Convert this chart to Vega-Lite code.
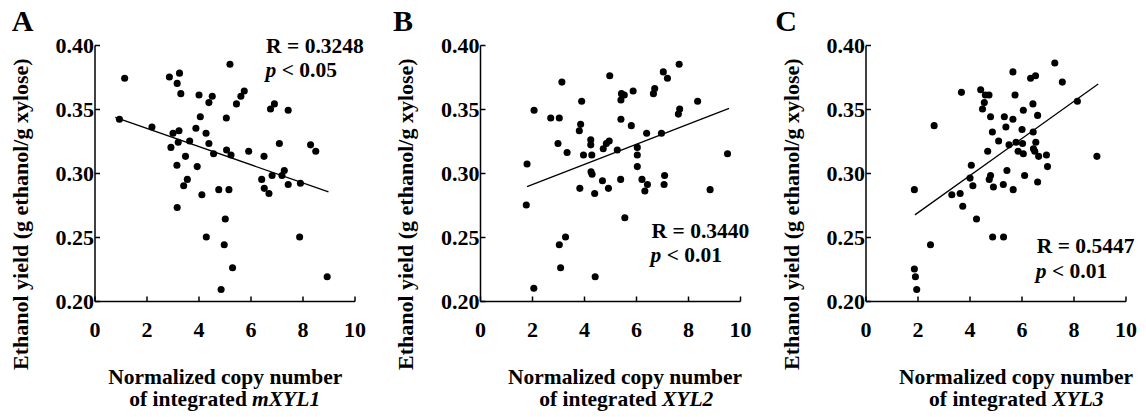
{
  "$schema": "https://vega.github.io/schema/vega-lite/v6.json",
  "padding": {"left": 8.5, "top": 6, "right": 0, "bottom": 0},
  "background": "white",
  "datasets": {
    "A": [{"x":0.96,"y":0.342},{"x":1.16,"y":0.374},{"x":2.21,"y":0.336},{"x":2.88,"y":0.375},{"x":2.94,"y":0.320},{"x":3.02,"y":0.331},{"x":3.18,"y":0.370},{"x":3.27,"y":0.378},{"x":3.25,"y":0.333},{"x":3.22,"y":0.324},{"x":3.17,"y":0.306},{"x":3.18,"y":0.273},{"x":3.32,"y":0.362},{"x":3.50,"y":0.313},{"x":3.43,"y":0.290},{"x":3.57,"y":0.295},{"x":3.66,"y":0.325},{"x":3.90,"y":0.335},{"x":3.95,"y":0.305},{"x":4.02,"y":0.361},{"x":4.07,"y":0.344},{"x":4.13,"y":0.283},{"x":4.29,"y":0.331},{"x":4.30,"y":0.250},{"x":4.40,"y":0.355},{"x":4.40,"y":0.323},{"x":4.53,"y":0.360},{"x":4.58,"y":0.315},{"x":4.78,"y":0.287},{"x":4.87,"y":0.209},{"x":4.99,"y":0.244},{"x":5.03,"y":0.264},{"x":5.07,"y":0.343},{"x":5.08,"y":0.318},{"x":5.17,"y":0.287},{"x":5.21,"y":0.385},{"x":5.25,"y":0.314},{"x":5.31,"y":0.226},{"x":5.46,"y":0.354},{"x":5.63,"y":0.360},{"x":5.76,"y":0.364},{"x":5.93,"y":0.317},{"x":6.43,"y":0.295},{"x":6.52,"y":0.313},{"x":6.53,"y":0.288},{"x":6.71,"y":0.284},{"x":6.77,"y":0.350},{"x":6.83,"y":0.298},{"x":6.92,"y":0.354},{"x":7.11,"y":0.323},{"x":7.21,"y":0.298},{"x":7.30,"y":0.302},{"x":7.45,"y":0.349},{"x":7.45,"y":0.291},{"x":7.89,"y":0.250},{"x":7.92,"y":0.292},{"x":8.31,"y":0.322},{"x":8.51,"y":0.317},{"x":8.95,"y":0.219}],
    "B": [{"x":1.81,"y":0.307},{"x":1.78,"y":0.275},{"x":2.08,"y":0.349},{"x":2.07,"y":0.210},{"x":2.72,"y":0.343},{"x":3.00,"y":0.323},{"x":3.05,"y":0.343},{"x":3.05,"y":0.244},{"x":3.10,"y":0.226},{"x":3.15,"y":0.371},{"x":3.29,"y":0.250},{"x":3.35,"y":0.316},{"x":3.82,"y":0.333},{"x":3.87,"y":0.338},{"x":3.84,"y":0.288},{"x":3.91,"y":0.356},{"x":3.98,"y":0.314},{"x":4.26,"y":0.326},{"x":4.26,"y":0.322},{"x":4.27,"y":0.301},{"x":4.31,"y":0.299},{"x":4.30,"y":0.314},{"x":4.41,"y":0.284},{"x":4.43,"y":0.219},{"x":4.71,"y":0.294},{"x":4.74,"y":0.319},{"x":4.86,"y":0.323},{"x":4.97,"y":0.325},{"x":4.94,"y":0.288},{"x":4.99,"y":0.376},{"x":5.28,"y":0.318},{"x":5.41,"y":0.295},{"x":5.42,"y":0.342},{"x":5.42,"y":0.357},{"x":5.44,"y":0.362},{"x":5.55,"y":0.361},{"x":5.57,"y":0.265},{"x":5.82,"y":0.337},{"x":5.89,"y":0.364},{"x":6.05,"y":0.320},{"x":6.05,"y":0.314},{"x":6.05,"y":0.305},{"x":6.23,"y":0.295},{"x":6.34,"y":0.286},{"x":6.41,"y":0.331},{"x":6.44,"y":0.291},{"x":6.67,"y":0.362},{"x":6.72,"y":0.366},{"x":6.98,"y":0.331},{"x":7.05,"y":0.379},{"x":7.08,"y":0.291},{"x":7.10,"y":0.298},{"x":7.21,"y":0.374},{"x":7.63,"y":0.346},{"x":7.68,"y":0.350},{"x":7.66,"y":0.385},{"x":8.37,"y":0.356},{"x":8.85,"y":0.287},{"x":9.52,"y":0.315}],
    "C": [{"x":1.88,"y":0.287},{"x":1.88,"y":0.225},{"x":1.92,"y":0.219},{"x":1.97,"y":0.209},{"x":2.50,"y":0.244},{"x":2.64,"y":0.337},{"x":3.32,"y":0.283},{"x":3.64,"y":0.284},{"x":3.69,"y":0.363},{"x":3.74,"y":0.274},{"x":4.02,"y":0.296},{"x":4.07,"y":0.306},{"x":4.13,"y":0.290},{"x":4.27,"y":0.264},{"x":4.43,"y":0.365},{"x":4.50,"y":0.350},{"x":4.57,"y":0.355},{"x":4.61,"y":0.361},{"x":4.75,"y":0.361},{"x":4.70,"y":0.317},{"x":4.76,"y":0.295},{"x":4.81,"y":0.298},{"x":4.81,"y":0.344},{"x":4.88,"y":0.332},{"x":4.89,"y":0.250},{"x":4.92,"y":0.289},{"x":5.12,"y":0.325},{"x":5.30,"y":0.291},{"x":5.31,"y":0.250},{"x":5.34,"y":0.344},{"x":5.40,"y":0.336},{"x":5.44,"y":0.302},{"x":5.52,"y":0.322},{"x":5.67,"y":0.342},{"x":5.67,"y":0.379},{"x":5.68,"y":0.287},{"x":5.75,"y":0.361},{"x":5.79,"y":0.324},{"x":5.87,"y":0.317},{"x":6.02,"y":0.334},{"x":6.04,"y":0.323},{"x":6.07,"y":0.315},{"x":6.07,"y":0.349},{"x":6.12,"y":0.298},{"x":6.35,"y":0.374},{"x":6.44,"y":0.354},{"x":6.45,"y":0.332},{"x":6.46,"y":0.319},{"x":6.54,"y":0.376},{"x":6.55,"y":0.324},{"x":6.51,"y":0.317},{"x":6.62,"y":0.345},{"x":6.62,"y":0.293},{"x":6.66,"y":0.313},{"x":6.96,"y":0.314},{"x":7.00,"y":0.305},{"x":7.28,"y":0.386},{"x":7.57,"y":0.371},{"x":8.15,"y":0.356},{"x":8.90,"y":0.313}],
    "fitA": [{"x":0.8,"y":0.3434},{"x":9.0,"y":0.2853}],
    "fitB": [{"x":1.81,"y":0.2894},{"x":9.58,"y":0.3505}],
    "fitC": [{"x":1.90,"y":0.2673},{"x":8.95,"y":0.3695}]
  },
  "hconcat": [
    {
      "width": 260, "height": 256,
      "layer": [
        {"data": {"name": "A"}, "mark": {"type": "circle", "size": 50, "opacity": 1, "color": "black"},
         "encoding": {
           "x": {"field": "x", "type": "quantitative", "scale": {"domain": [0, 10], "nice": false, "zero": false}, "axis": {"values": [0,2,4,6,8,10], "format": "d", "title": null}},
           "y": {"field": "y", "type": "quantitative", "scale": {"domain": [0.2, 0.4], "nice": false, "zero": false}, "axis": {"values": [0.2,0.25,0.3,0.35,0.4], "format": ".2f", "title": "Ethanol yield (g ethanol/g xylose)", "titleY": 168.7, "titlePadding": 23}}}},
        {"data": {"name": "fitA"}, "mark": {"type": "line", "color": "black", "strokeWidth": 1.3}, "encoding": {"x": {"field": "x", "type": "quantitative"}, "y": {"field": "y", "type": "quantitative"}}},
        {"data": {"values": [{"t": "A"}]}, "mark": {"type": "text", "align": "left", "baseline": "alphabetic", "fontSize": 30}, "encoding": {"x": {"datum": -3.18}, "y": {"datum": 0.4112}, "text": {"field": "t"}}},
        {"data": {"values": [{"t": "R = 0.3248"}]}, "mark": {"type": "text", "align": "left", "baseline": "alphabetic"}, "encoding": {"x": {"datum": 6.6}, "y": {"datum": 0.3935}, "text": {"field": "t"}}},
        {"data": {"values": [{"t": "p"}]}, "mark": {"type": "text", "align": "left", "baseline": "alphabetic", "fontStyle": "italic"}, "encoding": {"x": {"datum": 6.58}, "y": {"datum": 0.375}, "text": {"field": "t"}}},
        {"data": {"values": [{"t": "< 0.05"}]}, "mark": {"type": "text", "align": "left", "baseline": "alphabetic"}, "encoding": {"x": {"datum": 7.2}, "y": {"datum": 0.375}, "text": {"field": "t"}}},
        {"data": {"values": [{"t": "Normalized copy number"}]}, "mark": {"type": "text", "align": "center", "baseline": "alphabetic"}, "encoding": {"x": {"datum": 5.03}, "y": {"datum": 0.1354}, "text": {"field": "t"}}},
        {"data": {"values": [{"t": "of integrated"}]}, "mark": {"type": "text", "align": "right", "baseline": "alphabetic"}, "encoding": {"x": {"datum": 5.86}, "y": {"datum": 0.1178}, "text": {"field": "t"}}},
        {"data": {"values": [{"t": "mXYL1"}]}, "mark": {"type": "text", "align": "left", "baseline": "alphabetic", "fontStyle": "italic"}, "encoding": {"x": {"datum": 6.06}, "y": {"datum": 0.1178}, "text": {"field": "t"}}}
      ]
    },
    {
      "width": 260, "height": 256,
      "layer": [
        {"data": {"name": "B"}, "mark": {"type": "circle", "size": 50, "opacity": 1, "color": "black"},
         "encoding": {
           "x": {"field": "x", "type": "quantitative", "scale": {"domain": [0, 10], "nice": false, "zero": false}, "axis": {"values": [0,2,4,6,8,10], "format": "d", "title": null}},
           "y": {"field": "y", "type": "quantitative", "scale": {"domain": [0.2, 0.4], "nice": false, "zero": false}, "axis": {"values": [0.2,0.25,0.3,0.35,0.4], "format": ".2f", "title": "Ethanol yield (g ethanol/g xylose)", "titleY": 168.7, "titlePadding": 23}}}},
        {"data": {"name": "fitB"}, "mark": {"type": "line", "color": "black", "strokeWidth": 1.3}, "encoding": {"x": {"field": "x", "type": "quantitative"}, "y": {"field": "y", "type": "quantitative"}}},
        {"data": {"values": [{"t": "B"}]}, "mark": {"type": "text", "align": "left", "baseline": "alphabetic", "fontSize": 30}, "encoding": {"x": {"datum": -3.35}, "y": {"datum": 0.4112}, "text": {"field": "t"}}},
        {"data": {"values": [{"t": "R = 0.3440"}]}, "mark": {"type": "text", "align": "left", "baseline": "alphabetic"}, "encoding": {"x": {"datum": 6.6}, "y": {"datum": 0.2495}, "text": {"field": "t"}}},
        {"data": {"values": [{"t": "p"}]}, "mark": {"type": "text", "align": "left", "baseline": "alphabetic", "fontStyle": "italic"}, "encoding": {"x": {"datum": 6.56}, "y": {"datum": 0.2305}, "text": {"field": "t"}}},
        {"data": {"values": [{"t": "< 0.01"}]}, "mark": {"type": "text", "align": "left", "baseline": "alphabetic"}, "encoding": {"x": {"datum": 7.18}, "y": {"datum": 0.2305}, "text": {"field": "t"}}},
        {"data": {"values": [{"t": "Normalized copy number"}]}, "mark": {"type": "text", "align": "center", "baseline": "alphabetic"}, "encoding": {"x": {"datum": 5.58}, "y": {"datum": 0.1354}, "text": {"field": "t"}}},
        {"data": {"values": [{"t": "of integrated"}]}, "mark": {"type": "text", "align": "right", "baseline": "alphabetic"}, "encoding": {"x": {"datum": 6.8}, "y": {"datum": 0.1178}, "text": {"field": "t"}}},
        {"data": {"values": [{"t": "XYL2"}]}, "mark": {"type": "text", "align": "left", "baseline": "alphabetic", "fontStyle": "italic"}, "encoding": {"x": {"datum": 7.0}, "y": {"datum": 0.1178}, "text": {"field": "t"}}}
      ]
    },
    {
      "width": 260, "height": 256,
      "layer": [
        {"data": {"name": "C"}, "mark": {"type": "circle", "size": 50, "opacity": 1, "color": "black"},
         "encoding": {
           "x": {"field": "x", "type": "quantitative", "scale": {"domain": [0, 10], "nice": false, "zero": false}, "axis": {"values": [0,2,4,6,8,10], "format": "d", "title": null}},
           "y": {"field": "y", "type": "quantitative", "scale": {"domain": [0.2, 0.4], "nice": false, "zero": false}, "axis": {"values": [0.2,0.25,0.3,0.35,0.4], "format": ".2f", "title": "Ethanol yield (g ethanol/g xylose)", "titleY": 168.7, "titlePadding": 23}}}},
        {"data": {"name": "fitC"}, "mark": {"type": "line", "color": "black", "strokeWidth": 1.3}, "encoding": {"x": {"field": "x", "type": "quantitative"}, "y": {"field": "y", "type": "quantitative"}}},
        {"data": {"values": [{"t": "C"}]}, "mark": {"type": "text", "align": "left", "baseline": "alphabetic", "fontSize": 30}, "encoding": {"x": {"datum": -3.47}, "y": {"datum": 0.4112}, "text": {"field": "t"}}},
        {"data": {"values": [{"t": "R = 0.5447"}]}, "mark": {"type": "text", "align": "left", "baseline": "alphabetic"}, "encoding": {"x": {"datum": 6.59}, "y": {"datum": 0.2372}, "text": {"field": "t"}}},
        {"data": {"values": [{"t": "p"}]}, "mark": {"type": "text", "align": "left", "baseline": "alphabetic", "fontStyle": "italic"}, "encoding": {"x": {"datum": 6.55}, "y": {"datum": 0.2182}, "text": {"field": "t"}}},
        {"data": {"values": [{"t": "< 0.01"}]}, "mark": {"type": "text", "align": "left", "baseline": "alphabetic"}, "encoding": {"x": {"datum": 7.17}, "y": {"datum": 0.2182}, "text": {"field": "t"}}},
        {"data": {"values": [{"t": "Normalized copy number"}]}, "mark": {"type": "text", "align": "center", "baseline": "alphabetic"}, "encoding": {"x": {"datum": 5.79}, "y": {"datum": 0.1354}, "text": {"field": "t"}}},
        {"data": {"values": [{"t": "of integrated"}]}, "mark": {"type": "text", "align": "right", "baseline": "alphabetic"}, "encoding": {"x": {"datum": 6.97}, "y": {"datum": 0.1178}, "text": {"field": "t"}}},
        {"data": {"values": [{"t": "XYL3"}]}, "mark": {"type": "text", "align": "left", "baseline": "alphabetic", "fontStyle": "italic"}, "encoding": {"x": {"datum": 7.18}, "y": {"datum": 0.1178}, "text": {"field": "t"}}}
      ]
    }
  ],
  "spacing": 125.5,
  "bounds": "flush",
  "config": {
    "view": {"stroke": null},
    "font": "Liberation Serif",
    "axis": {
      "grid": false, "domainColor": "black", "domainWidth": 1.5, "tickColor": "black", "tickWidth": 1.5, "tickSize": -5,
      "labelFont": "Liberation Serif", "labelFontWeight": "bold", "labelFontSize": 22, "labelColor": "black", "labelFlush": false,
      "titleFont": "Liberation Serif", "titleFontWeight": "bold", "titleFontSize": 22, "titleColor": "black"
    },
    "axisX": {"labelPadding": 23},
    "axisY": {"labelPadding": 6},
    "text": {"font": "Liberation Serif", "fontWeight": "bold", "fontSize": 21.5, "color": "black"}
  }
}
